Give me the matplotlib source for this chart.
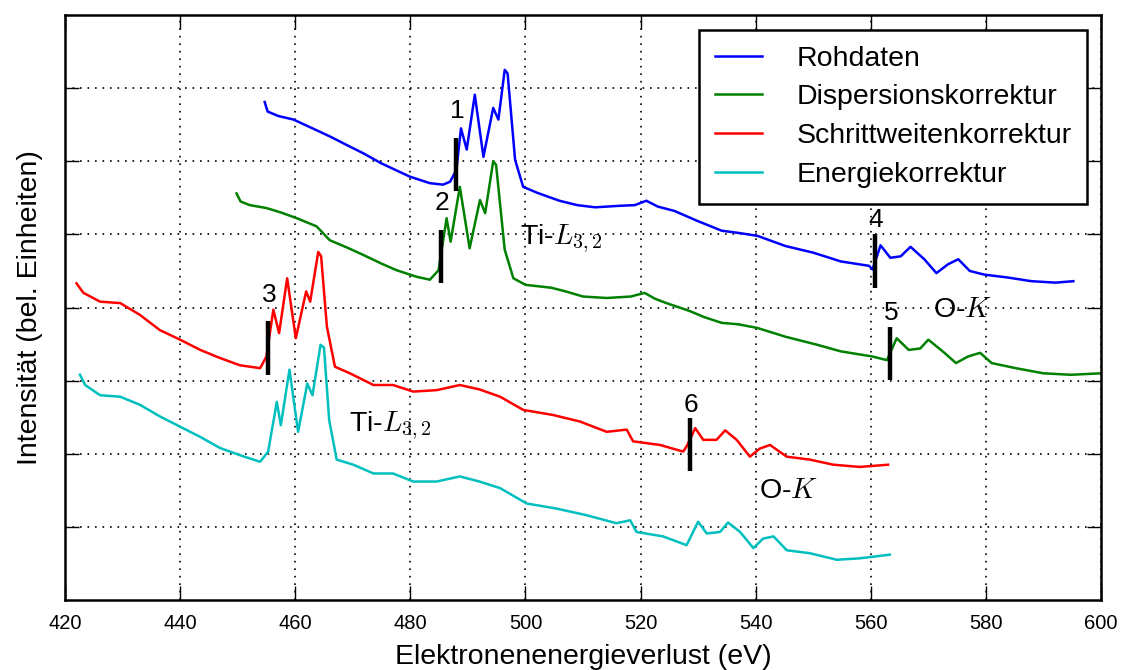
import numpy as np
import matplotlib
matplotlib.use("Agg")
import matplotlib.pyplot as plt

plt.rcParams['font.family'] = ['Liberation Sans', 'DejaVu Sans']
plt.rcParams['mathtext.fontset'] = 'cm'

# Rohdaten (blau)
e_roh = [454.7, 455.2, 457.0, 459.7, 463.0, 466.0, 469.0, 471.8, 475.0, 479.9, 483.4, 485.7,
         486.9, 488.0, 488.8, 489.8, 491.2, 492.7, 494.4, 495.3, 496.4, 496.9, 498.2, 499.6,
         502.0, 505.9, 509.0, 512.1, 516.2, 519.0, 521.0, 523.0, 525.9, 530.0, 534.1, 537.0,
         540.3, 545.2, 550.0, 554.8, 559.7, 560.3, 561.7, 563.4, 565.2, 566.9, 569.3, 571.4,
         573.4, 575.2, 577.2, 579.7, 583.8, 587.9, 592.1, 595.2]
i_roh = [6.81, 6.68, 6.62, 6.57, 6.45, 6.34, 6.22, 6.11, 5.97, 5.79, 5.70, 5.68,
         5.72, 5.88, 6.45, 6.16, 6.91, 6.06, 6.73, 6.57, 7.25, 7.20, 6.02, 5.65,
         5.57, 5.46, 5.40, 5.37, 5.39, 5.40, 5.46, 5.38, 5.32, 5.18, 5.05, 5.02,
         4.98, 4.84, 4.75, 4.63, 4.57, 4.52, 4.85, 4.68, 4.70, 4.83, 4.66, 4.47,
         4.59, 4.66, 4.50, 4.45, 4.41, 4.36, 4.34, 4.36]

# Dispersionskorrektur (gruen)
e_disp = [449.8, 450.5, 452.1, 455.0, 457.5, 460.3, 463.7, 466.0, 469.0, 471.8, 475.0, 477.6,
          481.1, 483.4, 484.9, 486.3, 487.0, 488.6, 490.3, 492.1, 493.0, 494.4, 494.9, 496.4,
          497.9, 500.0, 504.5, 507.0, 510.0, 514.1, 518.3, 520.7, 522.5, 524.5, 528.6, 531.0,
          534.1, 537.0, 540.3, 545.2, 550.7, 554.8, 560.3, 562.8, 564.5, 566.6, 568.6, 570.0,
          572.8, 574.8, 576.9, 579.0, 581.0, 585.2, 590.0, 594.8, 600.0]
i_disp = [5.56, 5.45, 5.40, 5.36, 5.30, 5.22, 5.11, 4.92, 4.82, 4.72, 4.60, 4.51,
          4.42, 4.38, 4.51, 5.22, 4.90, 5.65, 4.81, 5.47, 5.29, 6.00, 5.95, 4.79,
          4.40, 4.31, 4.27, 4.22, 4.15, 4.13, 4.15, 4.20, 4.12, 4.06, 3.95, 3.87,
          3.79, 3.77, 3.72, 3.60, 3.49, 3.40, 3.33, 3.28, 3.58, 3.42, 3.44, 3.56,
          3.38, 3.24, 3.33, 3.38, 3.24, 3.17, 3.10, 3.08, 3.10]

# Schrittweitenkorrektur (rot)
e_schritt = [422.0, 423.2, 426.1, 429.6, 433.0, 436.5, 440.0, 443.5, 446.9, 450.4, 453.9, 455.0,
             456.2, 457.2, 458.6, 460.1, 461.9, 462.6, 464.0, 464.5, 465.5, 466.9, 469.5, 473.6,
             477.0, 480.5, 484.6, 488.6, 492.0, 495.6, 499.6, 504.8, 509.5, 514.1, 517.6, 518.7,
             523.4, 527.4, 528.0, 529.5, 530.9, 533.2, 534.7, 536.7, 539.0, 540.7, 542.5, 545.4,
             549.4, 553.5, 558.1, 563.0]
i_schritt = [4.33, 4.20, 4.08, 4.06, 3.90, 3.69, 3.56, 3.42, 3.31, 3.21, 3.17, 3.33,
             3.97, 3.65, 4.40, 3.58, 4.22, 4.08, 4.76, 4.70, 3.74, 3.19, 3.10, 2.94,
             2.94, 2.85, 2.87, 2.94, 2.88, 2.78, 2.60, 2.53, 2.44, 2.30, 2.33, 2.17,
             2.12, 2.03, 2.10, 2.35, 2.19, 2.19, 2.32, 2.19, 1.96, 2.07, 2.12, 1.96,
             1.92, 1.85, 1.82, 1.85]

# Energiekorrektur (cyan)
e_energie = [422.6, 423.5, 426.1, 429.6, 433.0, 436.5, 440.0, 443.5, 446.9, 450.4, 453.9, 455.3,
             456.8, 457.5, 459.0, 460.5, 462.1, 463.0, 464.4, 465.0, 465.9, 467.2, 470.1, 473.6,
             477.0, 480.5, 484.6, 488.6, 492.0, 495.6, 500.2, 505.4, 510.6, 515.8, 518.2, 519.3,
             523.9, 528.0, 530.0, 531.5, 533.8, 535.2, 537.3, 539.6, 541.3, 543.1, 545.4, 549.4,
             554.1, 558.1, 563.3]
i_energie = [3.08, 2.94, 2.80, 2.78, 2.67, 2.51, 2.37, 2.23, 2.08, 1.98, 1.89, 2.03,
             2.71, 2.39, 3.15, 2.30, 2.96, 2.80, 3.49, 3.45, 2.46, 1.92, 1.85, 1.73,
             1.73, 1.62, 1.62, 1.69, 1.62, 1.53, 1.32, 1.25, 1.16, 1.05, 1.09, 0.93,
             0.87, 0.75, 1.07, 0.91, 0.93, 1.06, 0.93, 0.71, 0.84, 0.87, 0.68, 0.64,
             0.55, 0.57, 0.62]

# Kantenmarkierungen: Nummer, Energie, unteres Ende, Hoehe der Nummer
marker_nr = ['1', '2', '3', '4', '5', '6']
marker_e = [488.0, 485.3, 455.3, 560.7, 563.4, 528.6]
marker_y = [5.59, 4.33, 3.08, 4.27, 3.01, 1.76]
marker_lbl_y = [6.69, 5.43, 4.17, 5.20, 3.93, 2.67]

fig = plt.figure(figsize=(11.23, 6.70), dpi=100)
ax = fig.add_axes([65/1123, 1 - 600/670, 1036/1123, 585/670])

ax.plot(e_roh, i_roh, color='b', lw=1.8, label='Rohdaten')
ax.plot(e_disp, i_disp, color='g', lw=1.8, label='Dispersionskorrektur')
ax.plot(e_schritt, i_schritt, color='r', lw=1.8, label='Schrittweitenkorrektur')
ax.plot(e_energie, i_energie, color='c', lw=1.8, label='Energiekorrektur')

for nr, e, y, ly in zip(marker_nr, marker_e, marker_y, marker_lbl_y):
    ax.plot([e, e], [y, y + 0.73], color='k', lw=3.2, solid_capstyle='butt')
    ax.text(e + 0.2, ly, nr, ha='center', va='center', fontsize=19)

ax.text(499.0, 4.94, 'Ti-$L_{3,2}$', ha='left', va='center', fontsize=20.5)
ax.text(469.3, 2.39, 'Ti-$L_{3,2}$', ha='left', va='center', fontsize=20.5)
ax.text(570.8, 3.97, 'O-$K$', ha='left', va='center', fontsize=20.5)
ax.text(540.6, 1.49, 'O-$K$', ha='left', va='center', fontsize=20.5)

ax.set_xlim(420, 600)
ax.set_ylim(0, 8)
ax.set_xticks(np.arange(420, 601, 20))
ax.set_yticks(np.arange(1, 8))
ax.set_yticklabels([])
ax.tick_params(direction='in', length=10, width=1, top=True, right=True,
               labelsize=14.5, pad=10)
ax.grid(True, color='k', linestyle=(0, (1, 3.5)), linewidth=1.2)
for s in ax.spines.values():
    s.set_linewidth(1.8)

ax.set_xlabel('Elektronenenergieverlust (eV)', fontsize=20.5, labelpad=8)
ax.set_ylabel('Intensität (bel. Einheiten)', fontsize=20.5, labelpad=6)

leg = ax.legend(loc='upper right', bbox_to_anchor=(0.9865, 0.9744), borderaxespad=0,
                fontsize=20.5, fancybox=False, framealpha=1, edgecolor='k',
                handlelength=1.65, handletextpad=1.2, labelspacing=0.45,
                borderpad=0.55)
leg.get_frame().set_linewidth(1.8)

fig.savefig('out.png', dpi=100)
